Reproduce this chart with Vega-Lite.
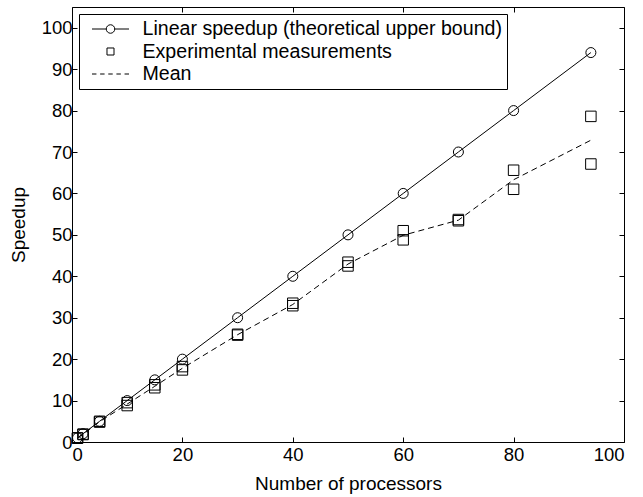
{
  "$schema": "https://vega.github.io/schema/vega-lite/v6.json",
  "width": 552,
  "height": 435,
  "autosize": {"type": "none"},
  "padding": {"left": 72, "top": 7, "right": 19, "bottom": 55},
  "background": "white",
  "config": {
    "view": {"stroke": "black", "strokeWidth": 1},
    "font": "Liberation Sans",
    "axis": {
      "domain": false,
      "grid": false,
      "tickColor": "black",
      "tickSize": -5,
      "tickWidth": 1,
      "labelFont": "Liberation Sans",
      "labelFontSize": 18.5,
      "labelColor": "black",
      "titleFont": "Liberation Sans",
      "titleFontSize": 19,
      "titleFontWeight": "normal",
      "titleColor": "black"
    }
  },
  "data": {
    "values": [
      {"x": 1, "y": 1, "series": "Linear speedup (theoretical upper bound)"},
      {"x": 2, "y": 2, "series": "Linear speedup (theoretical upper bound)"},
      {"x": 5, "y": 5, "series": "Linear speedup (theoretical upper bound)"},
      {"x": 10, "y": 10, "series": "Linear speedup (theoretical upper bound)"},
      {"x": 15, "y": 15, "series": "Linear speedup (theoretical upper bound)"},
      {"x": 20, "y": 20, "series": "Linear speedup (theoretical upper bound)"},
      {"x": 30, "y": 30, "series": "Linear speedup (theoretical upper bound)"},
      {"x": 40, "y": 40, "series": "Linear speedup (theoretical upper bound)"},
      {"x": 50, "y": 50, "series": "Linear speedup (theoretical upper bound)"},
      {"x": 60, "y": 60, "series": "Linear speedup (theoretical upper bound)"},
      {"x": 70, "y": 70, "series": "Linear speedup (theoretical upper bound)"},
      {"x": 80, "y": 80, "series": "Linear speedup (theoretical upper bound)"},
      {"x": 94, "y": 94, "series": "Linear speedup (theoretical upper bound)"},
      {"x": 1, "y": 0.9, "series": "Experimental measurements"},
      {"x": 1, "y": 1.0, "series": "Experimental measurements"},
      {"x": 2, "y": 1.8, "series": "Experimental measurements"},
      {"x": 2, "y": 1.9, "series": "Experimental measurements"},
      {"x": 5, "y": 4.8, "series": "Experimental measurements"},
      {"x": 5, "y": 5.0, "series": "Experimental measurements"},
      {"x": 10, "y": 8.8, "series": "Experimental measurements"},
      {"x": 10, "y": 9.5, "series": "Experimental measurements"},
      {"x": 15, "y": 13.1, "series": "Experimental measurements"},
      {"x": 15, "y": 13.8, "series": "Experimental measurements"},
      {"x": 20, "y": 17.4, "series": "Experimental measurements"},
      {"x": 20, "y": 18.2, "series": "Experimental measurements"},
      {"x": 30, "y": 25.8, "series": "Experimental measurements"},
      {"x": 30, "y": 26.0, "series": "Experimental measurements"},
      {"x": 40, "y": 32.9, "series": "Experimental measurements"},
      {"x": 40, "y": 33.5, "series": "Experimental measurements"},
      {"x": 50, "y": 42.5, "series": "Experimental measurements"},
      {"x": 50, "y": 43.4, "series": "Experimental measurements"},
      {"x": 60, "y": 48.8, "series": "Experimental measurements"},
      {"x": 60, "y": 51.0, "series": "Experimental measurements"},
      {"x": 70, "y": 53.4, "series": "Experimental measurements"},
      {"x": 70, "y": 53.7, "series": "Experimental measurements"},
      {"x": 80, "y": 61.0, "series": "Experimental measurements"},
      {"x": 80, "y": 65.6, "series": "Experimental measurements"},
      {"x": 94, "y": 67.1, "series": "Experimental measurements"},
      {"x": 94, "y": 78.6, "series": "Experimental measurements"},
      {"x": 1, "y": 0.95, "series": "Mean"},
      {"x": 2, "y": 1.85, "series": "Mean"},
      {"x": 5, "y": 4.9, "series": "Mean"},
      {"x": 10, "y": 9.15, "series": "Mean"},
      {"x": 15, "y": 13.45, "series": "Mean"},
      {"x": 20, "y": 17.8, "series": "Mean"},
      {"x": 30, "y": 25.9, "series": "Mean"},
      {"x": 40, "y": 33.2, "series": "Mean"},
      {"x": 50, "y": 42.95, "series": "Mean"},
      {"x": 60, "y": 49.9, "series": "Mean"},
      {"x": 70, "y": 53.55, "series": "Mean"},
      {"x": 80, "y": 63.3, "series": "Mean"},
      {"x": 94, "y": 72.85, "series": "Mean"}
    ]
  },
  "resolve": {"axis": {"x": "independent", "y": "independent"}},
  "layer": [
    {
      "transform": [{"filter": "datum.series === 'Linear speedup (theoretical upper bound)'"}],
      "mark": {"type": "line", "color": "black", "strokeWidth": 1},
      "encoding": {
        "x": {"field": "x", "type": "quantitative", "scale": {"domain": [0, 100], "nice": false},
          "axis": {"orient": "bottom", "title": "Number of processors", "values": [0, 20, 40, 60, 80, 100], "labelPadding": 8, "titlePadding": 11}},
        "y": {"field": "y", "type": "quantitative", "scale": {"domain": [0, 105], "nice": false},
          "axis": {"orient": "left", "title": "Speedup", "values": [0, 10, 20, 30, 40, 50, 60, 70, 80, 90, 100], "labelPadding": 5, "titlePadding": 13}}
      }
    },
    {
      "transform": [{"filter": "datum.series === 'Linear speedup (theoretical upper bound)'"}],
      "mark": {"type": "point", "shape": "circle", "filled": false, "stroke": "black", "strokeWidth": 1, "size": 100, "opacity": 1},
      "encoding": {
        "x": {"field": "x", "type": "quantitative", "axis": null},
        "y": {"field": "y", "type": "quantitative", "axis": null}
      }
    },
    {
      "transform": [{"filter": "datum.series === 'Experimental measurements'"}],
      "mark": {"type": "point", "shape": "square", "filled": false, "stroke": "black", "strokeWidth": 1, "size": 110, "opacity": 1},
      "encoding": {
        "x": {"field": "x", "type": "quantitative", "axis": null},
        "y": {"field": "y", "type": "quantitative", "axis": null}
      }
    },
    {
      "transform": [{"filter": "datum.series === 'Mean'"}],
      "mark": {"type": "line", "color": "black", "strokeWidth": 1, "strokeDash": [6, 4]},
      "encoding": {
        "x": {"field": "x", "type": "quantitative", "axis": {"orient": "top", "labels": false, "title": null, "values": [0, 20, 40, 60, 80, 100]}},
        "y": {"field": "y", "type": "quantitative", "axis": {"orient": "right", "labels": false, "title": null, "values": [0, 10, 20, 30, 40, 50, 60, 70, 80, 90, 100]}}
      }
    },
    {
      "mark": {"type": "point", "filled": false, "opacity": 0, "size": 1},
      "encoding": {
        "x": {"field": "x", "type": "quantitative", "axis": null},
        "y": {"field": "y", "type": "quantitative", "axis": null},
        "shape": {"field": "series", "type": "nominal",
          "scale": {"domain": ["Linear speedup (theoretical upper bound)", "Experimental measurements", "Mean"],
            "range": ["M-1,0H-0.23A0.23,0.23 0 1,1 0.23,0A0.23,0.23 0 1,1 -0.23,0M0.23,0H1", "M-0.19,-0.19H0.19V0.19H-0.19Z", "M-1,0H-0.76M-0.56,0H-0.32M-0.12,0H0.12M0.32,0H0.56M0.76,0H1"]},
          "legend": {
            "title": null,
            "orient": "top-left",
            "offset": 7,
            "padding": 4.5,
            "strokeColor": "black",
            "fillColor": "white",
            "cornerRadius": 0,
            "labelFont": "Liberation Sans",
            "labelFontSize": 19.6,
            "labelColor": "black",
            "labelOffset": 13,
            "labelExpr": "datum.label + '\u00a0\u00a0\u00a0'",
            "symbolOffset": 8,
            "symbolSize": 1369,
            "clipHeight": 21,
            "rowPadding": 1.5,
            "symbolStrokeColor": "black",
            "symbolFillColor": "transparent",
            "symbolStrokeWidth": 1,
            "symbolOpacity": 1,
            "labelLimit": 1000
          }
        }
      }
    }
  ]
}
